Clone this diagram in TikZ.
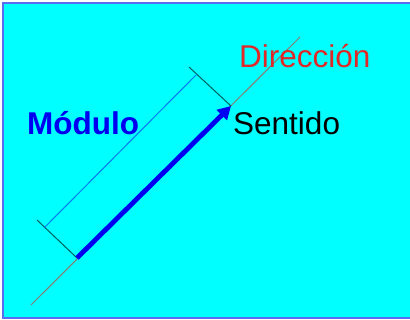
\documentclass[tikz,border=0pt]{standalone}
\usepackage{fontspec}
\setmainfont{Liberation Sans}
\usetikzlibrary{arrows.meta}
\definecolor{bgcyan}{HTML}{00FFFF}
\definecolor{frameblue}{HTML}{5A6CF0}
\definecolor{dirred}{HTML}{E02828}
\definecolor{dirgray}{HTML}{8C7A70}
\definecolor{tickgreen}{HTML}{00605A}
\definecolor{modblue}{HTML}{0A78F0}
\definecolor{vecblue}{HTML}{0000F0}
\tikzset{
  lbl/.style={anchor=base west, inner sep=0pt, font=\fontsize{31.5}{34}\selectfont},
  tickline/.style={draw=tickgreen, line width=1pt},
}
\begin{document}
\begin{tikzpicture}[x=1pt,y=-1pt]
\useasboundingbox (0,0) rectangle (410,320);
\begin{scope}
\clip (0,0) rectangle (410,320);
\draw[fill=bgcyan, draw=frameblue, line width=2.2pt] (3,3) rectangle (416,318);
\end{scope}
% direction line
\coordinate (d1) at (31,305);
\coordinate (d2) at (300,37);
\draw[dirgray, line width=1pt] (d1) -- (d2);
% vector
\coordinate (va) at (77,258);
\coordinate (vb) at (231,106);
% ticks
\coordinate (t1) at (37,220);
\coordinate (t2) at (189,67);
\draw[tickline] (t1) -- (va);
\draw[tickline] (t2) -- (vb);
% module dimension line
\coordinate (m1) at (44,228);
\coordinate (m2) at (197,74);
\draw[modblue, line width=1pt] (m1) -- (m2);
\draw[vecblue, line width=4.8pt, -{Triangle[length=13pt,width=14pt]}] (va) -- (vb);
% labels
\node[lbl, text=vecblue, font=\fontsize{31.5}{34}\selectfont\bfseries] (mod) at (27,135) {Módulo};
\node[lbl, text=dirred] (dir) at (239,68) {Dirección};
\node[lbl, text=black] (sen) at (233,135) {Sentido};
\end{tikzpicture}
\end{document}
